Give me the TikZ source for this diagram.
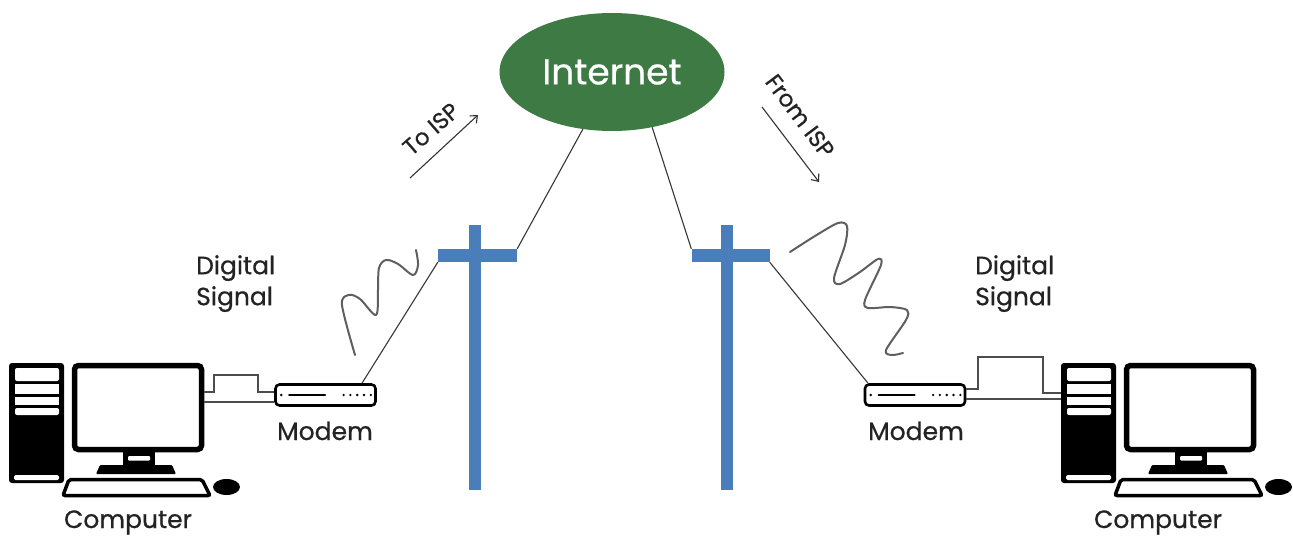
\documentclass[tikz,border=0pt]{standalone}
\usepackage{fontspec}
\setmainfont{Poppins}[FakeBold=0.6]
\usetikzlibrary{shapes.geometric,arrows.meta}
\definecolor{netgreen}{RGB}{61,122,68}
\definecolor{poleblue}{RGB}{74,126,187}
\definecolor{wire}{RGB}{55,55,55}
\definecolor{wavegray}{RGB}{95,95,95}
\definecolor{inktext}{RGB}{35,35,35}
\tikzset{
  cloudnode/.style={ellipse, fill=netgreen, text=white, minimum width=225pt,
    minimum height=118pt, inner sep=0pt, font=\fontsize{36}{40}\selectfont},
  modembox/.style={draw=black, line width=2.6pt, rounded corners=4pt, fill=white,
    minimum width=100pt, minimum height=21pt, inner sep=0pt},
  caption/.style={font=\fontsize{25}{31}\selectfont, text=inktext, inner sep=0pt},
  smallcap/.style={font=\fontsize{23}{25}\selectfont, text=inktext, inner sep=0pt},
  wireline/.style={draw=wire, line width=1.1pt},
  cable/.style={draw=black!70, line width=1.4pt},
  signal/.style={draw=wavegray, line width=2pt, line cap=round, line join=round},
  polebar/.style={rectangle, fill=poleblue, inner sep=0pt},
  isparrow/.style={draw=black!80, line width=1.1pt, -{Straight Barb[length=6pt,width=10pt]}},
  pics/computer/.style={code={
    % tower with drive bays
    \fill[black, rounded corners=3pt] (9,363) rectangle (64,483);
    \fill[white, rounded corners=2pt] (15,368) rectangle (59,381);
    \fill[white] (15,384) rectangle (59,394);
    \fill[white] (15,397) rectangle (59,405);
    \fill[white, rounded corners=2pt] (15,408) rectangle (59,415);
    \fill[white, rounded corners=1.5pt] (14,475) rectangle (59,480);
    % monitor
    \draw[black, line width=5.5pt, rounded corners=4pt, fill=white] (74.5,365.5) rectangle (201.5,449.5);
    % stand
    \fill[black] (123,452) rectangle (155,466);
    \fill[white, rounded corners=1pt] (128,456) rectangle (150,460.5);
    \fill[black, rounded corners=1pt] (100,465) -- (172,465) -- (176,474) -- (96,474) -- cycle;
    % keyboard
    \draw[black, line width=3.5pt, rounded corners=2pt, fill=white] (69,479.5) -- (202,479.5) -- (210,495.5) -- (63,495.5) -- cycle;
    % mouse
    \fill[black] (226.5,487) ellipse [x radius=13.5pt, y radius=8pt];
  }},
}
\begin{document}
\begin{tikzpicture}[x=1pt, y=-1pt]
  \useasboundingbox[fill=white] (0,0) rectangle (1293,537);

  % cloud
  \node[cloudnode] (internet) at (612,72) {Internet};

  % utility poles
  \node[polebar, minimum width=12pt, minimum height=265pt] (lpost) at (475,357.5) {};
  \node[polebar, minimum width=79pt, minimum height=13pt] (lbar) at (477.5,255.5) {};
  \node[polebar, minimum width=12pt, minimum height=265pt] (rpost) at (727,357.5) {};
  \node[polebar, minimum width=78pt, minimum height=13pt] (rbar) at (730.5,255.5) {};

  % computers
  \pic (lpc) at (0,0) {computer};
  \pic (rpc) at (1052,0) {computer};
  \coordinate (lpcport) at (204,397);
  \coordinate (rpcport) at (1061,396);

  % modems
  \node[modembox] (lmodem) at (325.5,395) {};
  \node[modembox] (rmodem) at (915,395) {};
  \foreach \m in {lmodem, rmodem}{
    \fill[black] ([xshift=7pt]\m.west) circle (1.3pt);
    \draw[black, line width=2pt, line cap=round] ([xshift=15pt]\m.west) -- ([xshift=51pt]\m.west);
    \foreach \k in {0,...,4}
      \fill[black] ([xshift={-6pt-\k*6.8pt}]\m.east) circle (1.3pt);
  }

  % computer-to-modem cables
  \draw[cable] (lpcport |- 0,402) -- (lmodem.west |- 0,402);
  \draw[cable] (lpcport |- 0,392) -- (214,392) -- (214,375) -- (258,375) -- (258,392) -- (lmodem.west |- 0,392);
  \draw[cable] (rmodem.east |- 0,399) -- (rpcport |- 0,399);
  \draw[cable] (rmodem.east |- 0,389) -- (978,389) -- (978,357) -- (1043,357) -- (1043,393) -- (rpcport |- 0,393);

  % lines to the poles and the cloud
  \draw[wireline] (internet.-117) -- (lbar.north east);
  \draw[wireline] (internet.-54) -- (rbar.north west);
  \draw[wireline] (lbar.south west) -- (lmodem.north east -| 362,0);
  \draw[wireline] (rbar.south east) -- (rmodem.north west -| 868,0);

  % signals
  \draw[signal] plot[smooth, tension=0.55] coordinates {(355,355) (342,305) (349,295) (360,299) (376,315) (378,290) (379,268) (386,260) (398,264) (413,275) (418,265) (416,250)};
  \draw[signal] plot[smooth, tension=0.5] coordinates {(790,252) (815,236) (838,223) (847,226) (845,245) (834,278) (840,284) (860,272) (878,259) (881,265) (865,300) (868,308) (890,307) (907,310) (906,320) (886,350) (892,355) (903,353)};

  % labels
  \node[caption, anchor=north west, align=left] (ldig) at (196,255) {Digital\\Signal};
  \node[caption, anchor=north west, align=left] (rdig) at (975,255) {Digital\\Signal};
  \node[caption, anchor=base] (lmodemtxt) at (325,440) {Modem};
  \node[caption, anchor=base] (rmodemtxt) at (916,440) {Modem};
  \node[caption, anchor=base] (lpctxt) at (128,528) {Computer};
  \node[caption, anchor=base] (rpctxt) at (1158,528) {Computer};

  % direction arrows
  \coordinate (toA) at (410,178);
  \coordinate (toB) at (478,115);
  \draw[isparrow] (toA) -- (toB);
  \node[smallcap, rotate=41] (totxt) at (431,129) {To ISP};
  \coordinate (fromA) at (762,107);
  \coordinate (fromB) at (819,182);
  \draw[isparrow] (fromA) -- (fromB);
  \node[smallcap, rotate=-53] (fromtxt) at (800,116) {From ISP};
\end{tikzpicture}
\end{document}
